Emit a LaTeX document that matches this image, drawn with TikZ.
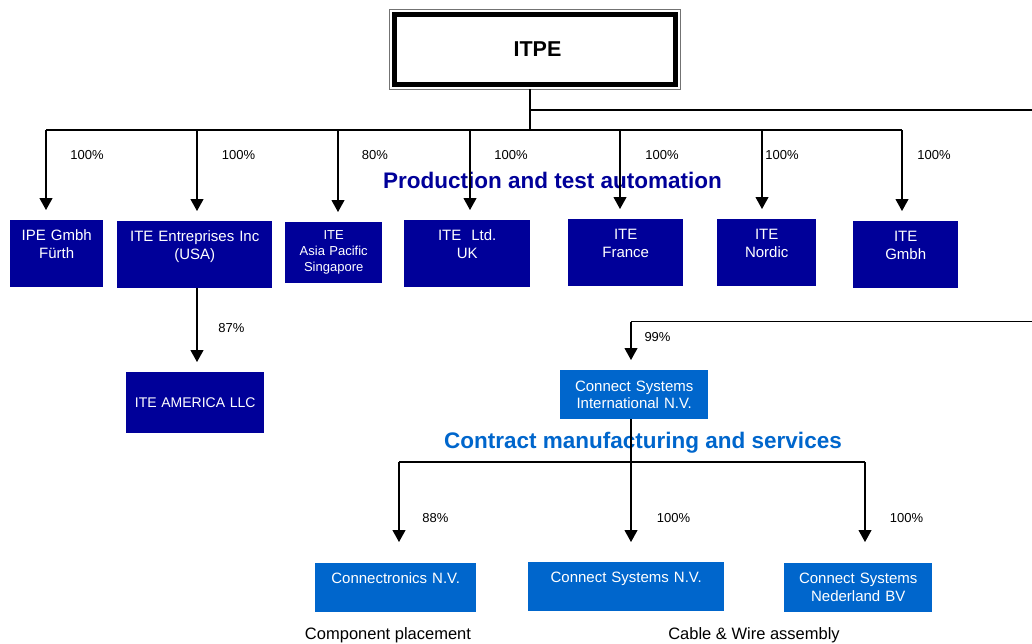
\documentclass[tikz,border=0pt]{standalone}
\usepackage{fontspec}
\setmainfont{Liberation Sans}
\usetikzlibrary{arrows.meta}
\definecolor{itedark}{RGB}{0,0,153}
\definecolor{csblue}{RGB}{0,102,204}
\newcommand{\fsz}[2]{\fontsize{#1}{#2}\selectfont}

\begin{document}
\begin{tikzpicture}[x=1pt,y=-1pt,
    link/.style={line width=1.1pt},
    drop/.style={link,-{Triangle[width=13pt,length=12pt]},shorten >=#1},
    drop/.default=10pt,
    itebox/.style={fill=itedark,text=white,inner sep=0pt,align=center,anchor=north west,font=\fsz{15}{18}},
    csbox/.style={itebox,fill=csblue,font=\fsz{15}{17}},
    pct/.style={anchor=base,font=\fsz{13}{15}},
    sector/.style={anchor=base,font=\bfseries\fsz{22.5}{26}},
  ]
  \useasboundingbox (0,0) rectangle (1032,643);%

  \node[draw,line width=5pt,outer sep=0pt,minimum width=281pt,minimum height=70pt,inner sep=0pt,font=\bfseries\fsz{21.5}{24}] (itpe) at (535,49.5) {\hspace{5pt}ITPE};%
  \draw[line width=0.8pt,black!55] ([shift={(-5.2,-5.2)}]itpe.north west) rectangle ([shift={(5.2,5.2)}]itpe.south east);%

  \node[itebox,text width=93pt,text height=20pt,text depth=47pt] (ipe) at (10,220) {IPE Gmbh\\Fürth};%
  \node[itebox,text width=155pt,text height=20pt,text depth=47pt] (usa) at (117,221) {ITE Entreprises Inc\\(USA)};%
  \node[itebox,text width=97pt,text height=17pt,text depth=44pt,font=\fsz{13}{16}] (asia) at (285,222) {ITE\\Asia Pacific\\Singapore};%
  \node[itebox,text width=126pt,text height=20pt,text depth=47pt] (uk) at (404,220) {ITE\ \ Ltd.\\UK};%
  \node[itebox,text width=115pt,text height=20pt,text depth=47pt] (france) at (568,219) {ITE\\France};%
  \node[itebox,text width=99pt,text height=20pt,text depth=47pt] (nordic) at (717,219) {ITE\\Nordic};%
  \node[itebox,text width=105pt,text height=20pt,text depth=47pt] (gmbh) at (853,221) {ITE\\Gmbh};%
  \node[itebox,text width=138pt,text height=35pt,text depth=26pt,font=\fsz{14}{17}] (america) at (126,372) {ITE AMERICA LLC};%

  \node[csbox,text width=148pt,text height=21pt,text depth=28pt] (csi) at (560,370) {Connect Systems\\International N.V.};%
  \node[csbox,text width=161pt,text height=20pt,text depth=29pt] (cnv) at (315,563) {Connectronics N.V.};%
  \node[csbox,text width=196pt,text height=20pt,text depth=29pt] (csnv) at (528,562) {Connect Systems N.V.};%
  \node[csbox,text width=148pt,text height=20pt,text depth=29pt,font=\fsz{15}{18}] (csnl) at (784,563) {Connect Systems\\Nederland BV};%

  \node[sector,text=itedark] (prod) at (552.5,188) {Production and test automation};%
  \node[sector,text=csblue] (contract) at (643,448) {Contract manufacturing and services};%

  \node[anchor=base,font=\fsz{16.5}{19}] (place) at (388,639) {Component placement};%
  \node[anchor=base,font=\fsz{16.5}{19}] (cable) at (754,639) {Cable \& Wire assembly};%

  \coordinate (trunk) at (530,130);%
  \coordinate (exitA) at (1032,110);%
  \coordinate (b1) at (46,130);%
  \coordinate (b2) at (197,130);%
  \coordinate (b3) at (338,130);%
  \coordinate (b4) at (470,130);%
  \coordinate (b5) at (620,130);%
  \coordinate (b6) at (762,130);%
  \coordinate (b7) at (902,130);%

  \draw[link] ([yshift=-4.5pt]trunk |- itpe.south) -- (trunk);%
  \draw[link] (trunk |- exitA) -- (exitA);%
  \draw[link] (b1) -- (b7);%

  \draw[drop] (b1) -- (b1 |- ipe.north);%
  \draw[drop] (b2) -- (b2 |- usa.north);%
  \draw[drop] (b3) -- (b3 |- asia.north);%
  \draw[drop] (b4) -- (b4 |- uk.north);%
  \draw[drop] (b5) -- (b5 |- france.north);%
  \draw[drop] (b6) -- (b6 |- nordic.north);%
  \draw[drop] (b7) -- (b7 |- gmbh.north);%
  \draw[drop] (b2 |- usa.south) -- (b2 |- america.north);%

  \coordinate (exitB) at (1032,321.5);%
  \coordinate (csitop) at (631,321.5);%
  \draw[link] (exitB) -- (csitop);%
  \draw[drop] (csitop) -- (csitop |- csi.north);%

  \coordinate (c1) at (399,462);%
  \coordinate (c2) at (631,462);%
  \coordinate (c3) at (865,462);%
  \draw[link] (c2 |- csi.south) -- (c2);%
  \draw[link] (c1) -- (c3);%
  \draw[drop=21pt] (c1) -- (c1 |- cnv.north);%
  \draw[drop=20pt] (c2) -- (c2 |- csnv.north);%
  \draw[drop=21pt] (c3) -- (c3 |- csnl.north);%

  \node[pct] (p1) at (87,159) {100\%};%
  \node[pct] (p2) at (238.5,159) {100\%};%
  \node[pct] (p3) at (375,159) {80\%};%
  \node[pct] (p4) at (511,159) {100\%};%
  \node[pct] (p5) at (662,159) {100\%};%
  \node[pct] (p6) at (782,159) {100\%};%
  \node[pct] (p7) at (934,159) {100\%};%
  \node[pct] (p8) at (231.5,332) {87\%};%
  \node[pct] (p9) at (657.5,341) {99\%};%
  \node[pct] (p10) at (435.5,522) {88\%};%
  \node[pct] (p11) at (673.5,522) {100\%};%
  \node[pct] (p12) at (906.5,522) {100\%};%
\end{tikzpicture}
\end{document}
